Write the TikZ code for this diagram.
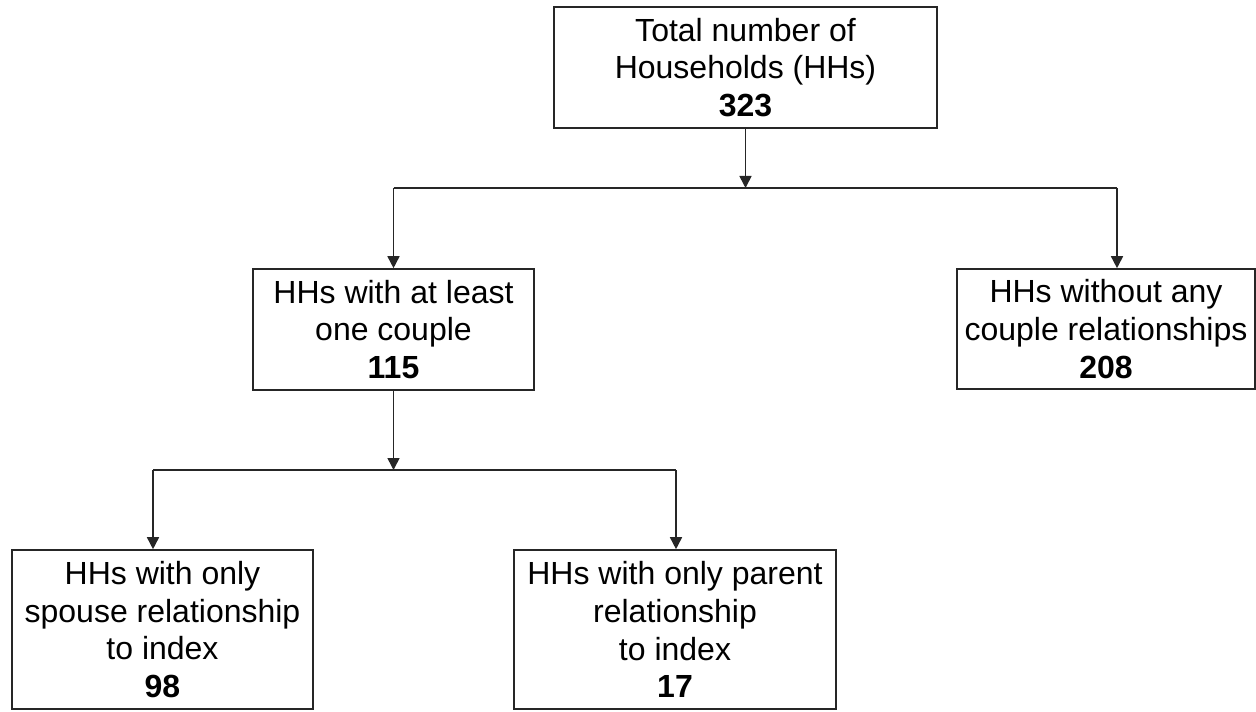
\documentclass[tikz,border=0pt]{standalone}
\usepackage{fontspec}
\setmainfont{Liberation Sans}
\usetikzlibrary{arrows.meta}
\begin{document}
\begin{tikzpicture}[x=0.5pt,y=-0.5pt,
  box/.style={draw=black!85,line width=0.8pt,inner sep=0pt,align=center,
    font=\fontsize{16}{18.9}\selectfont},
  arr/.style={draw=black!85,line width=0.8pt,-{Triangle[length=6pt,width=6pt]}},
  ln/.style={draw=black!85,line width=0.8pt}]
\useasboundingbox (0,0) rectangle (1256,711);
\node[box,minimum width=191.5pt,minimum height=60.5pt] (top) at (745.5,67.5)
  {Total number of\\Households (HHs)\\\textbf{323}};
\node[box,minimum width=140.5pt,minimum height=60.5pt] (mid) at (393.5,329.5)
  {HHs with at least\\one couple\\\textbf{115}};
\node[box,minimum width=149pt,minimum height=60pt] (rgt) at (1106,329)
  {HHs without any\\couple relationships\\\textbf{208}};
\node[box,minimum width=150.5pt,minimum height=79.5pt] (bl) at (162.5,629.5)
  {HHs with only\\spouse relationship\\to index\\\textbf{98}};
\node[box,minimum width=161pt,minimum height=79.5pt] (br) at (675,629.5)
  {HHs with only parent\\relationship\\to index\\\textbf{17}};
\coordinate (j1) at (745.5,188);
\coordinate (hL) at (393.5,188);
\coordinate (hR) at (1117,188);
\draw[arr] (top.south) -- (j1);
\draw[ln] (hL) -- (hR);
\draw[arr] (hL) -- (hL |- mid.north);
\draw[arr] (hR) -- (hR |- rgt.north);
\coordinate (j2) at (393.5,470);
\coordinate (gL) at (153,470);
\coordinate (gR) at (676,470);
\draw[arr] (mid.south) -- (j2);
\draw[ln] (gL) -- (gR);
\draw[arr] (gL) -- (gL |- bl.north);
\draw[arr] (gR) -- (gR |- br.north);
\end{tikzpicture}
\end{document}
